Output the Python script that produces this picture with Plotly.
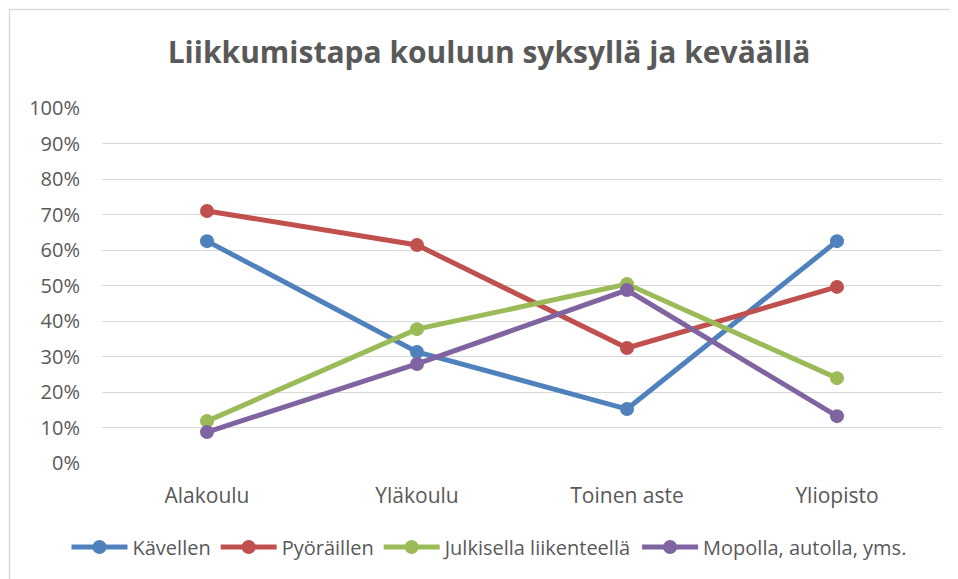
import plotly.graph_objects as go

categories = ["Alakoulu", "Yläkoulu", "Toinen aste", "Yliopisto"]
kavellen = [0.625, 0.313, 0.152, 0.625]
pyoraillen = [0.710, 0.614, 0.324, 0.496]
julkisella = [0.118, 0.377, 0.504, 0.239]
mopolla = [0.087, 0.279, 0.487, 0.132]

series_names = ["Kävellen", "Pyöräillen", "Julkisella liikenteellä", "Mopolla, autolla, yms."]
series_values = [kavellen, pyoraillen, julkisella, mopolla]
colors = ["#4F81BD", "#C0504D", "#9BBB59", "#8064A2"]
y_ticks = [i / 10 for i in range(11)]
y_tick_labels = [f"{i*10}%" for i in range(11)]

W, H = 950, 571  # page body has 8px margin
L, R, T, B = 94, 16, 100, 116
pw, ph = W - L - R, H - T - B

fig = go.Figure()
for name, vals, col in zip(series_names, series_values, colors):
    fig.add_trace(go.Scatter(
        x=categories, y=vals, name=name, mode="lines+markers",
        line=dict(color=col, width=5),
        marker=dict(color=col, size=14),
    ))

fig.update_layout(
    width=W, height=H,
    margin=dict(l=L, r=R, t=T, b=B),
    paper_bgcolor="white", plot_bgcolor="white",
    title=dict(text="<b>Liikkumistapa kouluun syksyllä ja keväällä</b>",
               x=(489 - 8) / W, xanchor="center", y=1 - 44 / H, yanchor="middle",
               font=dict(family="Open Sans", size=30, color="#595959")),
    font=dict(family="Open Sans", color="#595959"),
    showlegend=True,
    legend=dict(orientation="h", x=(489 - 102) / pw, xanchor="center",
                y=(455 - 539) / ph, yanchor="middle", itemwidth=56,
                font=dict(size=20, color="#595959"), tracegroupgap=0),
    xaxis=dict(range=[-0.5, 3.5], showgrid=False, zeroline=False, showline=False,
               ticks="", tickfont=dict(size=21, color="#595959"), ticklabelstandoff=18),
    yaxis=dict(range=[0, 1], tickvals=y_ticks, ticktext=y_tick_labels,
               showgrid=True, gridcolor="#D9D9D9", gridwidth=1.3, zeroline=False,
               showline=False, ticks="", tickfont=dict(size=20, color="#595959"),
               ticklabelstandoff=21),
)
fig.add_shape(type="rect", xref="paper", yref="paper",
              x0=(1.5 - L) / pw, x1=(W + 20 - L) / pw,
              y0=-(B + 20) / ph, y1=(ph + T - 1.5) / ph,
              line=dict(color="#D9D9D9", width=1.5), fillcolor="rgba(0,0,0,0)", layer="below")

fig.write_html("out.html")
